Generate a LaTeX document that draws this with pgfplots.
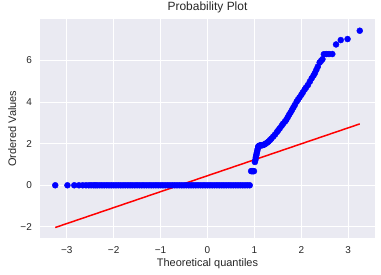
\documentclass[border=0pt]{standalone}
\usepackage{fontspec}
\setmainfont{Liberation Sans}
\usepackage{pgfplots}
\pgfplotsset{compat=1.18}
\definecolor{bgc}{HTML}{EAEAF2}
\definecolor{txt}{HTML}{262626}
\begin{document}
\begin{tikzpicture}
\begin{axis}[
  name=a,
  scale only axis,
  width=335bp, height=218.2bp,
  xmin=-3.57, xmax=3.57, ymin=-2.52, ymax=7.97,
  axis background/.style={fill=bgc},
  axis line style={draw=none},
  major tick length=0pt,
  grid=major,
  grid style={white, line width=1bp},
  xtick={-3,-2,-1,0,1,2,3},
  xticklabels={−3,−2,−1,0,1,2,3},
  ytick={-2,0,2,4,6},
  yticklabels={−2,0,2,4,6},
  tick label style={font=\fontsize{10}{12}\selectfont, text=txt, inner sep=0pt},
  xticklabel style={anchor=base, yshift=-15.3bp},
  yticklabel style={anchor=east, xshift=-8bp},
  label style={font=\fontsize{11}{13}\selectfont, text=txt},
  xlabel={Theoretical quantiles},
  xlabel style={at={(axis description cs:0.5,-0.132)}, anchor=base, inner sep=0pt},
  ylabel={Ordered Values},
  ylabel style={at={(axis description cs:-0.0716,0.5)}, anchor=base, inner sep=0pt},
  title={Probability Plot},
  title style={font=\fontsize{12}{14}\selectfont, text=txt, at={(axis description cs:0.5,1.016)}, anchor=base, inner sep=0pt},
]
\addplot[only marks, mark=*, mark size=3bp, color=blue, mark options={fill=blue, draw=blue}] table {
x y
-3.245 0
-2.985 0
-2.84 0
-2.74 0
-2.66 0
-2.59 0
-2.53 0
-2.48 0
-2.43 0
-2.39 0
-2.35 0
-2.30 0
-2.25 0
-2.20 0
-2.15 0
-2.10 0
-2.05 0
-2.00 0
-1.95 0
-1.90 0
-1.85 0
-1.80 0
-1.75 0
-1.70 0
-1.65 0
-1.60 0
-1.55 0
-1.50 0
-1.45 0
-1.40 0
-1.35 0
-1.30 0
-1.25 0
-1.20 0
-1.15 0
-1.10 0
-1.05 0
-1.00 0
-0.95 0
-0.90 0
-0.85 0
-0.80 0
-0.75 0
-0.70 0
-0.65 0
-0.60 0
-0.55 0
-0.50 0
-0.45 0
-0.40 0
-0.35 0
-0.30 0
-0.25 0
-0.20 0
-0.15 0
-0.10 0
-0.05 0
0.00 0
0.05 0
0.10 0
0.15 0
0.20 0
0.25 0
0.30 0
0.35 0
0.40 0
0.45 0
0.50 0
0.55 0
0.60 0
0.65 0
0.70 0
0.75 0
0.80 0
0.85 0
0.90 0
0.93 0.68
0.95 0.68
0.97 0.68
0.99 0.68
1.01 1.12
1.02 1.22
1.03 1.35
1.04 1.45
1.05 1.55
1.06 1.65
1.07 1.75
1.08 1.85
1.09 1.88
1.11 1.91
1.13 1.92
1.15 1.92
1.17 1.93
1.19 1.94
1.21 1.96
1.24 2.00
1.27 2.05
1.30 2.10
1.33 2.17
1.36 2.24
1.40 2.34
1.44 2.44
1.48 2.56
1.51 2.65
1.54 2.74
1.58 2.86
1.61 2.96
1.65 3.06
1.68 3.15
1.71 3.27
1.74 3.39
1.77 3.50
1.80 3.62
1.83 3.74
1.86 3.86
1.90 4.02
1.93 4.12
1.96 4.22
2.00 4.35
2.03 4.46
2.07 4.60
2.10 4.70
2.14 4.82
2.18 4.98
2.22 5.14
2.26 5.28
2.29 5.40
2.32 5.55
2.35 5.70
2.39 5.90
2.42 5.98
2.45 6.06
2.48 6.30
2.53 6.31
2.59 6.31
2.66 6.31
2.74 6.77
2.84 6.98
2.985 7.03
3.245 7.43
};
\addplot[red, line width=1.5bp] coordinates {(-3.245,-2.03) (3.245,2.95)};
\end{axis}
\pgfresetboundingbox
\path[use as bounding box] ([shift={(-40bp,-37.3bp)}]a.south west) rectangle ([shift={(6bp,19.5bp)}]a.north east);
\end{tikzpicture}
\end{document}
